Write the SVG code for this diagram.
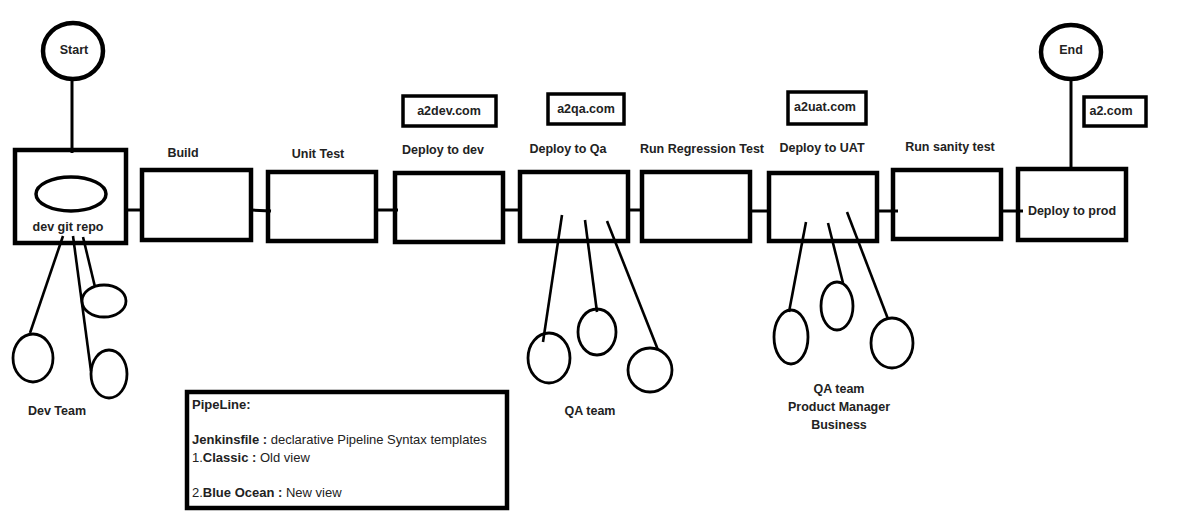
<svg xmlns="http://www.w3.org/2000/svg" width="1192" height="521" viewBox="0 0 1192 521">
<style>
.bg{fill:#fff}
.box{fill:none;stroke:#000;stroke-width:4.5}
.url{fill:#fff;stroke:#000;stroke-width:3.5}
.term{fill:#fff;stroke:#000;stroke-width:4.5}
.ell{fill:none;stroke:#000;stroke-width:2.8}
.ln{stroke:#000;stroke-width:3;fill:none}
.ln2{stroke:#000;stroke-width:2.6;fill:none}
text{font-family:"Liberation Sans",Arial,sans-serif;font-size:12.5px;fill:#222;dominant-baseline:central}
.b{font-weight:bold}
.c{text-anchor:middle}
.p{font-size:13px}
</style>
<rect class="bg" x="0" y="0" width="1192" height="521"/>

<g id="start">
<ellipse class="term" cx="73" cy="51" rx="30" ry="28"/>
<text class="b c" x="74" y="50">Start</text>
</g>

<g id="end">
<ellipse class="term" cx="1071" cy="52" rx="30" ry="27"/>
<text class="b c" x="1071" y="50">End</text>
</g>

<g id="devgit">
<rect class="box" x="15" y="150" width="111" height="93"/>
<ellipse class="term" cx="71" cy="194" rx="35" ry="17" style="stroke-width:3.5"/>
<text class="b c" x="68" y="227">dev git repo</text>
</g>

<g id="build">
<rect class="box" x="142" y="170" width="109" height="70"/>
<text class="b c" x="183" y="153">Build</text>
</g>

<g id="unittest">
<rect class="box" x="268" y="172" width="108" height="69"/>
<text class="b c" x="318" y="154">Unit Test</text>
</g>

<g id="deploydev">
<rect class="box" x="395" y="173" width="108" height="69"/>
<text class="b c" x="443" y="150">Deploy to dev</text>
<rect class="url" x="403" y="96" width="93" height="30"/>
<text class="b c" x="449" y="111">a2dev.com</text>
</g>

<g id="deployqa">
<rect class="box" x="520" y="172" width="108" height="69"/>
<text class="b c" x="568" y="149">Deploy to Qa</text>
<rect class="url" x="548" y="94" width="76" height="30"/>
<text class="b c" x="586" y="109">a2qa.com</text>
</g>

<g id="regression">
<rect class="box" x="642" y="172" width="108" height="69"/>
<text class="b c" x="702" y="149">Run Regression Test</text>
</g>

<g id="deployuat">
<rect class="box" x="769" y="173" width="108" height="68"/>
<text class="b c" x="822" y="148">Deploy to UAT</text>
<rect class="url" x="788" y="92" width="78" height="32"/>
<text class="b c" x="825" y="107">a2uat.com</text>
</g>

<g id="sanity">
<rect class="box" x="893" y="170" width="108" height="69"/>
<text class="b c" x="950" y="147">Run sanity test</text>
</g>

<g id="deployprod">
<rect class="box" x="1018" y="169" width="108" height="71"/>
<text class="b c" x="1072" y="211">Deploy to prod</text>
<rect class="url" x="1084" y="97" width="62" height="29"/>
<text class="b c" x="1111" y="111">a2.com</text>
</g>

<g id="devteam">
<ellipse class="ell" cx="33" cy="358" rx="20" ry="24"/>
<ellipse class="ell" cx="104" cy="301" rx="22" ry="16"/>
<ellipse class="ell" cx="109" cy="374" rx="18" ry="24"/>
<text class="b c" x="57" y="411">Dev Team</text>
</g>

<g id="qateam">
<ellipse class="ell" cx="549" cy="358" rx="21" ry="25"/>
<ellipse class="ell" cx="597" cy="332" rx="19" ry="23"/>
<ellipse class="ell" cx="650" cy="370" rx="22" ry="22"/>
<text class="b c" x="590" y="411">QA team</text>
</g>

<g id="uatteam">
<ellipse class="ell" cx="791" cy="337" rx="17" ry="27"/>
<ellipse class="ell" cx="837" cy="306" rx="16" ry="24"/>
<ellipse class="ell" cx="892" cy="343" rx="21" ry="25"/>
<text class="b c" x="839" y="389">QA team</text>
<text class="b c" x="839" y="407">Product Manager</text>
<text class="b c" x="839" y="425">Business</text>
</g>

<g id="pipeline">
<rect class="box" x="187" y="392" width="320" height="116"/>
<text class="b p" x="192" y="404">PipeLine:</text>
<text class="p" x="192" y="439"><tspan class="b">Jenkinsfile :</tspan> declarative Pipeline Syntax templates</text>
<text class="p" x="192" y="457">1.<tspan class="b">Classic :</tspan> Old view</text>
<text class="p" x="192" y="492">2.<tspan class="b">Blue Ocean :</tspan> New view</text>
</g>

<g id="connectors">
<line class="ln" x1="72" y1="80" x2="72" y2="153"/>
<line class="ln" x1="1071" y1="80" x2="1071" y2="168"/>
<line class="ln" x1="128" y1="210" x2="140" y2="210"/>
<line class="ln" x1="251" y1="210" x2="271" y2="211"/>
<line class="ln" x1="376" y1="210" x2="398" y2="210"/>
<line class="ln" x1="505" y1="210" x2="518" y2="210"/>
<line class="ln" x1="628" y1="210" x2="640" y2="210"/>
<line class="ln" x1="748" y1="211" x2="767" y2="211"/>
<line class="ln" x1="878" y1="211" x2="898" y2="211"/>
<line class="ln" x1="999" y1="211" x2="1023" y2="211"/>
<line class="ln2" x1="63" y1="236" x2="30" y2="333"/>
<line class="ln2" x1="73" y1="236" x2="91" y2="371"/>
<line class="ln2" x1="83" y1="237" x2="95" y2="287"/>
<line class="ln2" x1="562" y1="215" x2="543" y2="342"/>
<line class="ln2" x1="585" y1="220" x2="597" y2="312"/>
<line class="ln2" x1="607" y1="221" x2="658" y2="350"/>
<line class="ln2" x1="806" y1="222" x2="789" y2="312"/>
<line class="ln2" x1="828" y1="223" x2="843" y2="283"/>
<line class="ln2" x1="847" y1="212" x2="888" y2="319"/>
</g>
</svg>
